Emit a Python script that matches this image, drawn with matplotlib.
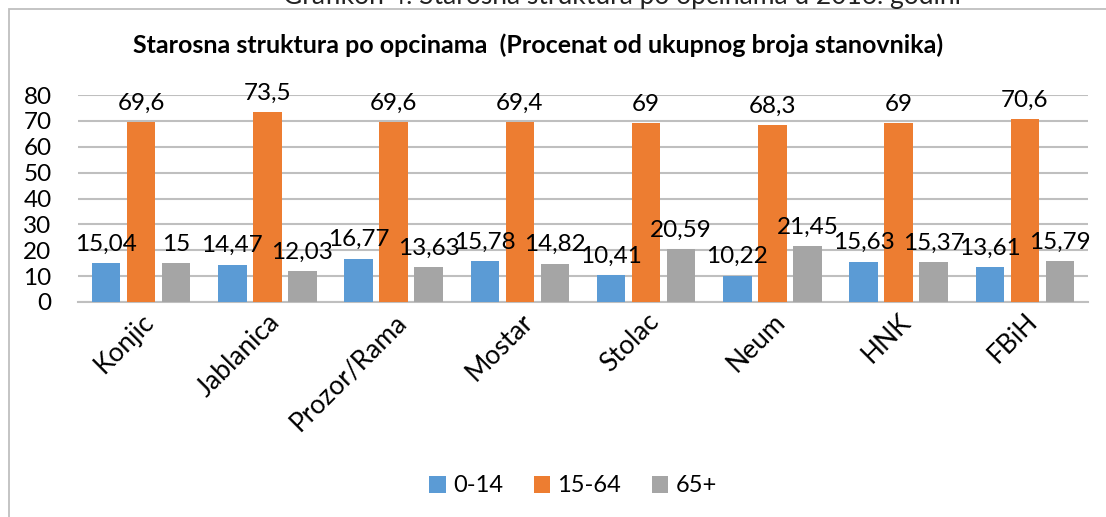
import matplotlib.pyplot as plt
import numpy as np
from matplotlib.patches import Rectangle

plt.rcParams['font.family'] = ['Lato', 'DejaVu Sans']

municipalities = ['Konjic', 'Jablanica', 'Prozor/Rama', 'Mostar', 'Stolac', 'Neum', 'HNK', 'FBiH']
age_groups = ['0-14', '15-64', '65+']
share_0_14 = [15.04, 14.47, 16.77, 15.78, 10.41, 10.22, 15.63, 13.61]
share_15_64 = [69.6, 73.5, 69.6, 69.4, 69, 68.3, 69, 70.6]
share_65 = [15, 12.03, 13.63, 14.82, 20.59, 21.45, 15.37, 15.79]

colors = ['#5B9BD5', '#ED7D31', '#A5A5A5']
grid_color = '#BFBFBF'


def fmt_value(v):
    s = ('%.2f' % v).rstrip('0').rstrip('.')
    return s.replace('.', ',')


fig = plt.figure(figsize=(11.06, 5.17), dpi=100)

# outer chart frame (runs off the right and bottom edges)
fig.patches.append(Rectangle((9 / 1106, -0.2), 1.2, 0.2 + 1 - 9 / 517,
                             transform=fig.transFigure, fill=False,
                             edgecolor='#BFBFBF', linewidth=1.3))

# caption above the chart, cut off by the crop
fig.text(622 / 1106, 1 - 4 / 517, 'Grafikon 4: Starosna struktura po opcinama u 2016. godini',
         ha='center', va='baseline', fontsize=19, color='#222222')

ax = fig.add_axes([78 / 1106, 1 - 302 / 517, 1010 / 1106, 207 / 517])

x = np.arange(len(municipalities))
width = 0.225
offset = 0.277
series = [share_0_14, share_15_64, share_65]

for i, (vals, label, color) in enumerate(zip(series, age_groups, colors)):
    pos = x + (i - 1) * offset
    ax.bar(pos, vals, width, color=color, label=label, zorder=3)
    for px, v in zip(pos, vals):
        ax.annotate(fmt_value(v), (px, v), xytext=(0, 6), textcoords='offset points',
                    ha='center', va='bottom', fontsize=17.5, color='black', zorder=4)

ax.set_xlim(-0.5, len(municipalities) - 0.5)
ax.set_ylim(0, 80)
ax.set_yticks(range(0, 81, 10))
ax.yaxis.grid(True, color=grid_color, linewidth=1.5, zorder=0)
ax.set_axisbelow(True)
for side in ['top', 'right', 'left']:
    ax.spines[side].set_visible(False)
ax.spines['bottom'].set_color(grid_color)
ax.spines['bottom'].set_linewidth(1.5)
ax.tick_params(axis='y', length=0, labelsize=17.5, pad=19)
ax.tick_params(axis='x', length=0, labelsize=19, pad=5)
ax.set_xticks(x)
ax.set_xticklabels(municipalities, rotation=45, ha='right', va='top', rotation_mode='anchor')

fig.text(538 / 1106, 1 - 45 / 517,
         'Starosna struktura po opcinama  (Procenat od ukupnog broja stanovnika)',
         ha='center', va='center', fontsize=18, fontweight='bold')

fig.legend(loc='center', bbox_to_anchor=(573 / 1106, 1 - 486 / 517), ncol=3, frameon=False,
           fontsize=17, handlelength=0.7, handleheight=0.7, handletextpad=0.3,
           columnspacing=1.3)

fig.savefig('out.png', dpi=100, facecolor='white')
